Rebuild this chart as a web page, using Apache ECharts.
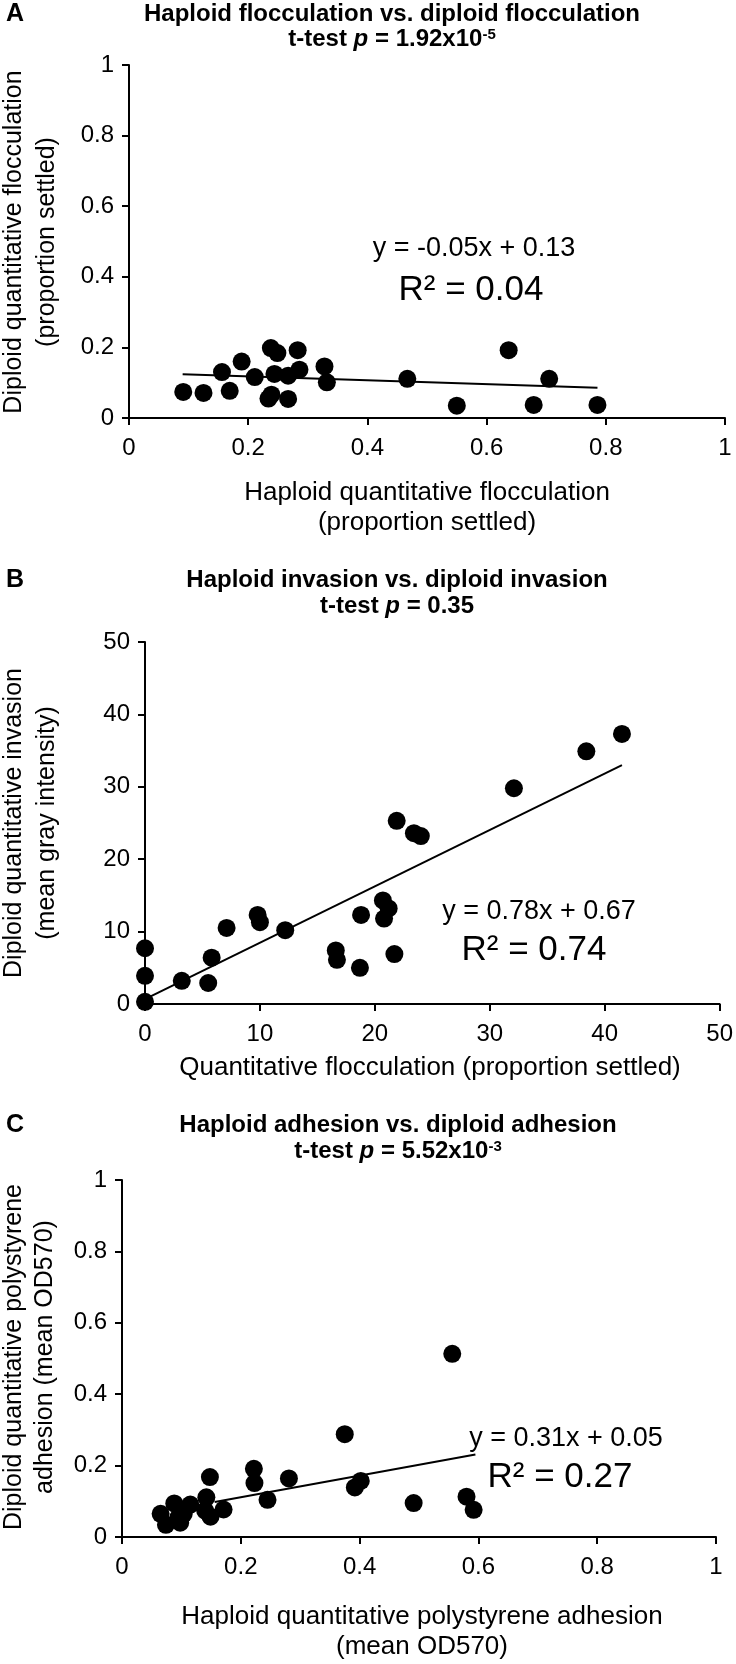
<!DOCTYPE html>
<html>
<head>
<meta charset="utf-8">
<script src="https://cdn.jsdelivr.net/npm/echarts@6/dist/echarts.min.js"></script>
<style>html,body{margin:0;padding:0;background:#fff}#c{width:736px;height:1664px}</style>
</head>
<body>
<div id="c"></div>
<script>
// ---- Panel A: flocculation ----
var aX = [0.091,0.125,0.156,0.169,0.189,0.211,0.238,0.249,0.234,0.239,0.244,0.267,0.267,0.283,0.286,0.328,0.332,0.467,0.550,0.637,0.679,0.705,0.786];
var aY = [0.074,0.071,0.130,0.077,0.160,0.116,0.198,0.184,0.055,0.066,0.125,0.120,0.054,0.192,0.137,0.146,0.101,0.111,0.035,0.192,0.037,0.111,0.037];
var aTrend = [[0.09,0.124],[0.786,0.086]];
var aTicks = [0,0.2,0.4,0.6,0.8,1];
// ---- Panel B: invasion ----
var bX = [0,0,0,3.2,5.5,5.8,7.1,9.8,10.0,12.2,16.6,16.7,18.7,18.8,20.7,21.2,20.8,21.7,21.9,23.4,24.0,32.1,38.4,41.5];
var bY = [0.3,3.9,7.7,3.2,2.9,6.4,10.5,12.3,11.3,10.2,7.4,6.1,5.0,12.3,14.3,13.2,11.8,6.9,25.3,23.6,23.2,29.8,34.9,37.3];
var bTrend = [[0,0.67],[41.5,33.0]];
var bTicks = [0,10,20,30,40,50];
// ---- Panel C: adhesion ----
var cX = [0.556,0.375,0.148,0.222,0.223,0.281,0.245,0.392,0.402,0.491,0.580,0.592,0.065,0.074,0.088,0.098,0.104,0.115,0.142,0.140,0.149,0.171,0.095];
var cY = [0.513,0.288,0.168,0.191,0.151,0.164,0.104,0.139,0.157,0.095,0.113,0.076,0.065,0.034,0.094,0.040,0.065,0.091,0.111,0.074,0.057,0.077,0.055];
var cTrend = [[0.156,0.098],[0.595,0.231]];
var cTicks = [0,0.2,0.4,0.6,0.8,1];

var FF = '"Liberation Sans",Arial,Helvetica,sans-serif';

function zip(xs, ys){ return xs.map(function(v,i){ return [v, ys[i]]; }); }

function axis(gi, ticks, isY){
  return {
    type:'value', gridIndex:gi,
    min:ticks[0], max:ticks[ticks.length-1], interval:ticks[1]-ticks[0],
    axisLine:{show:true, onZero:false, lineStyle:{color:'#000', width:2}},
    axisTick:{show:true, inside:false, length:7, lineStyle:{color:'#000', width:2}},
    splitLine:{show:false},
    axisLabel:{color:'#000', fontSize:24, fontFamily:FF, margin:isY?15:18, showMinLabel:true, showMaxLabel:true}
  };
}

function scatter(xi, data){
  return {type:'scatter', xAxisIndex:xi, yAxisIndex:xi, data:data, symbolSize:18, clip:false,
          itemStyle:{color:'#000', opacity:1}, z:3};
}
function trend(xi, data){
  return {type:'line', xAxisIndex:xi, yAxisIndex:xi, data:data, symbol:'none', clip:false,
          lineStyle:{color:'#000', width:2}, z:2};
}

function txt(x, y, text, size, opts){
  opts = opts || {};
  var st = {text:text, x:x, y:y, fill:'#000',
    font:(opts.bold?'bold ':'') + size + 'px ' + FF,
    textAlign:opts.align||'center', align:opts.align||'center',
    textVerticalAlign:'middle', verticalAlign:'middle'};
  if (opts.lineHeight) st.lineHeight = opts.lineHeight;
  if (opts.rich) st.rich = opts.rich;
  var g = {type:'text', style:st, z:10};
  if (opts.rot) { g.x = x; g.y = y; st.x = 0; st.y = 0; g.rotation = opts.rot; }
  return g;
}

var titleRich = {
  b:{fontFamily:FF, fontWeight:'bold', fontSize:24, fill:'#000', color:'#000'},
  i:{fontFamily:FF, fontWeight:'bold', fontStyle:'italic', fontSize:24, fill:'#000', color:'#000'},
  s:{fontFamily:FF, fontWeight:'bold', fontSize:15, fill:'#000', color:'#000', verticalAlign:'top'}
};

var option = {
  animation:false,
  backgroundColor:'#fff',
  grid:[
    {left:129, right:11, top:65, height:353},
    {left:145, right:14, top:642, height:362},
    {left:122, right:20, top:1180, height:357}
  ],
  xAxis:[ axis(0, aTicks, false), axis(1, bTicks, false), axis(2, cTicks, false) ],
  yAxis:[ axis(0, aTicks, true), axis(1, bTicks, true), axis(2, cTicks, true) ],
  series:[
    scatter(0, zip(aX, aY)), trend(0, aTrend),
    scatter(1, zip(bX, bY)), trend(1, bTrend),
    scatter(2, zip(cX, cY)), trend(2, cTrend)
  ],
  graphic:[
    txt(15, 14, 'A', 25, {bold:true}),
    txt(392, 14, 'Haploid flocculation vs. diploid flocculation', 24, {bold:true}),
    txt(392, 39, '{b|t-test }{i|p}{b| = 1.92x10}{s|-5}', 24, {rich:titleRich}),
    txt(474, 249, 'y = -0.05x + 0.13', 27),
    txt(471, 290, 'R² = 0.04', 35),
    txt(427, 508, 'Haploid quantitative flocculation\n(proportion settled)', 26, {lineHeight:30}),
    txt(31, 242, 'Diploid quantitative flocculation\n(proportion settled)', 25, {lineHeight:33, rot:Math.PI/2}),

    txt(15, 580, 'B', 25, {bold:true}),
    txt(397, 580, 'Haploid invasion vs. diploid invasion', 24, {bold:true}),
    txt(397, 606, '{b|t-test }{i|p}{b| = 0.35}', 24, {rich:titleRich}),
    txt(539, 912, 'y = 0.78x + 0.67', 27),
    txt(534, 950, 'R² = 0.74', 35),
    txt(430, 1068, 'Quantitative flocculation (proportion settled)', 26),
    txt(31, 823, 'Diploid quantitative invasion\n(mean gray intensity)', 25, {lineHeight:33, rot:Math.PI/2}),

    txt(15, 1125, 'C', 25, {bold:true}),
    txt(398, 1125, 'Haploid adhesion vs. diploid adhesion', 24, {bold:true}),
    txt(398, 1151, '{b|t-test }{i|p}{b| = 5.52x10}{s|-3}', 24, {rich:titleRich}),
    txt(566, 1439, 'y = 0.31x + 0.05', 27),
    txt(560, 1477, 'R² = 0.27', 35),
    txt(422, 1632, 'Haploid quantitative polystyrene adhesion\n(mean OD570)', 26, {lineHeight:30}),
    txt(30, 1357, 'Diploid quantitative polystyrene\nadhesion (mean OD570)', 25, {lineHeight:31, rot:Math.PI/2})
  ]
};
var chart = echarts.init(document.getElementById('c'), null, {renderer:'canvas'});
chart.setOption(option);
</script>
</body>
</html>
